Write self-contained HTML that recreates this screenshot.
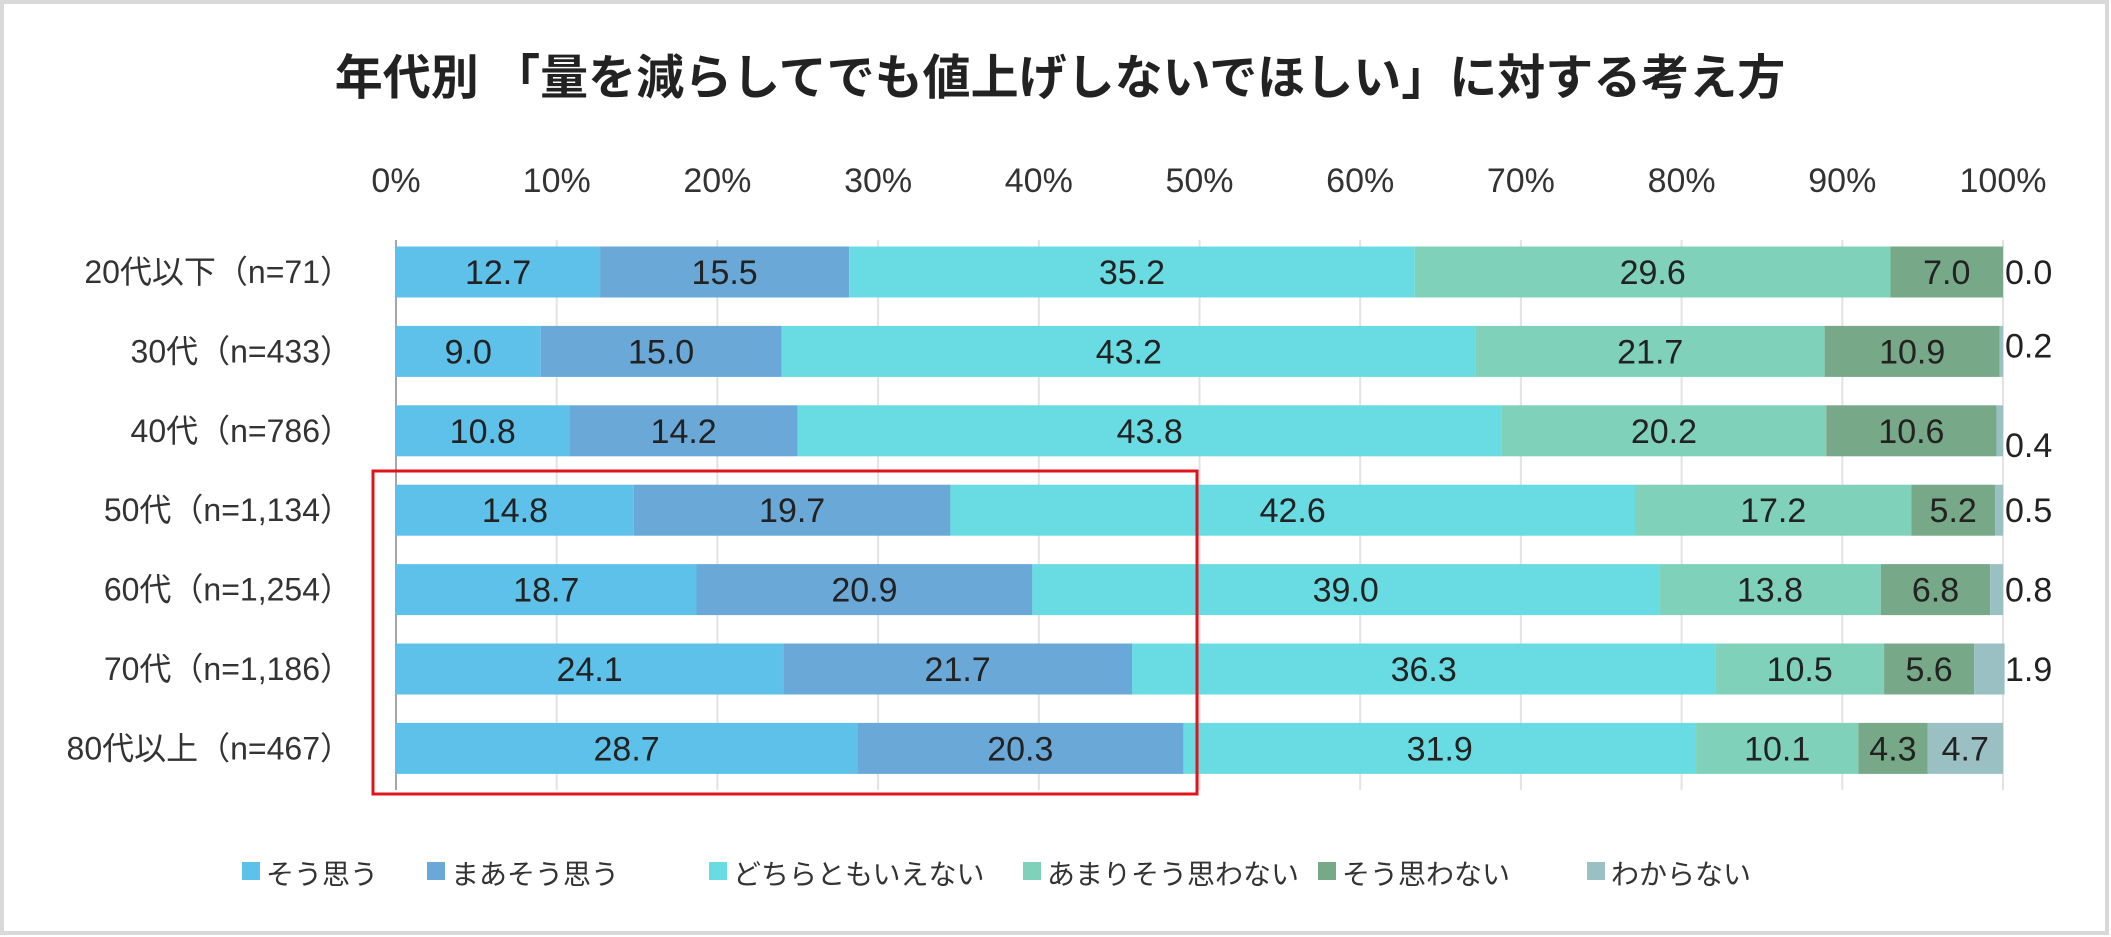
<!DOCTYPE html>
<html><head><meta charset="utf-8"><style>
html,body{margin:0;padding:0;background:#fff;}
svg{display:block;font-family:"Liberation Sans","Noto Sans CJK JP",sans-serif;}
</style></head><body>
<svg id="chart" width="2111" height="937" viewBox="0 0 2111 937">
<rect x="2" y="2" width="2105" height="931" fill="#fff" stroke="#d9d9d9" stroke-width="4"/>
<text x="1060" y="94" text-anchor="middle" font-size="48" font-weight="bold" fill="#222">年代別 「量を減らしてでも値上げしないでほしい」に対する考え方</text>
<g id="grid"></g><g id="bars"></g><g id="labels"></g><g id="legend"></g>
<rect x="373" y="471" width="824" height="323" fill="none" stroke="#e0151b" stroke-width="3"/>
</svg>
<script>
const categories=["20代以下（n=71）","30代（n=433）","40代（n=786）","50代（n=1,134）","60代（n=1,254）","70代（n=1,186）","80代以上（n=467）"];
const seriesNames=["そう思う","まあそう思う","どちらともいえない","あまりそう思わない","そう思わない","わからない"];
const s1=[12.7,9.0,10.8,14.8,18.7,24.1,28.7];
const s2=[15.5,15.0,14.2,19.7,20.9,21.7,20.3];
const s3=[35.2,43.2,43.8,42.6,39.0,36.3,31.9];
const s4=[29.6,21.7,20.2,17.2,13.8,10.5,10.1];
const s5=[7.0,10.9,10.6,5.2,6.8,5.6,4.3];
const s6=[0.0,0.2,0.4,0.5,0.8,1.9,4.7];
const ticks=[0,10,20,30,40,50,60,70,80,90,100];
const colors=["#5dc1ea","#6aa8d8","#68dce2","#7fd1b9","#77a888","#9bc0c4"];
const series=[s1,s2,s3,s4,s5,s6];
const NS="http://www.w3.org/2000/svg";
const x0=396,x1=2003;
const X=v=>x0+(x1-x0)*v/100;
const Y=i=>272+i*79.4;
const bh=51;
function mk(tag,attrs,parent,text){const e=document.createElementNS(NS,tag);for(const k in attrs)e.setAttribute(k,attrs[k]);if(text!==undefined)e.textContent=text;document.getElementById(parent).appendChild(e);return e;}
ticks.forEach(t=>{
 const l=mk('line',{x1:X(t),x2:X(t),y1:240,y2:790,stroke:t===0?'#a6a6a6':'#e3e3e3','stroke-width':2},'grid');
 
 
 const tx=mk('text',{x:X(t),y:192,'text-anchor':'middle','font-size':34,fill:'#333'},'grid',t+'%');
 
 
});
categories.forEach((c,i)=>{
 const t=mk('text',{x:352,y:Y(i)+11,'text-anchor':'end','font-size':32,fill:'#333'},'labels',c);
 
 
 let acc=0;
 series.forEach((s,k)=>{
  const v=s[i];
  const r=mk('rect',{x:X(acc),y:Y(i)-bh/2,width:Math.max(0,X(acc+v)-X(acc)),height:bh,fill:colors[k]},'bars');
  
  
  let lx,anchor='middle';
  if(k===5 && v<2){lx=X(100)+2;anchor='start';}else lx=(X(acc)+X(acc+v))/2;
  const dy=(k===5&&i===1)?-6:(k===5&&i===2)?14:0;
  const tl=mk('text',{x:lx,y:Y(i)+12+dy,'text-anchor':anchor,'font-size':34,fill:'#222'},'labels',v.toFixed(1));
  
  
  acc+=v;
 });
});
const lx=[242,427,709,1023,1318,1587];
seriesNames.forEach((n,k)=>{
 const r=mk('rect',{x:lx[k],y:862,width:18,height:18,fill:colors[k]},'legend');
 
 
 const t=mk('text',{x:lx[k]+24,y:884,'font-size':28,fill:'#333'},'legend',n);
 
 
});
</script>
</body></html>
